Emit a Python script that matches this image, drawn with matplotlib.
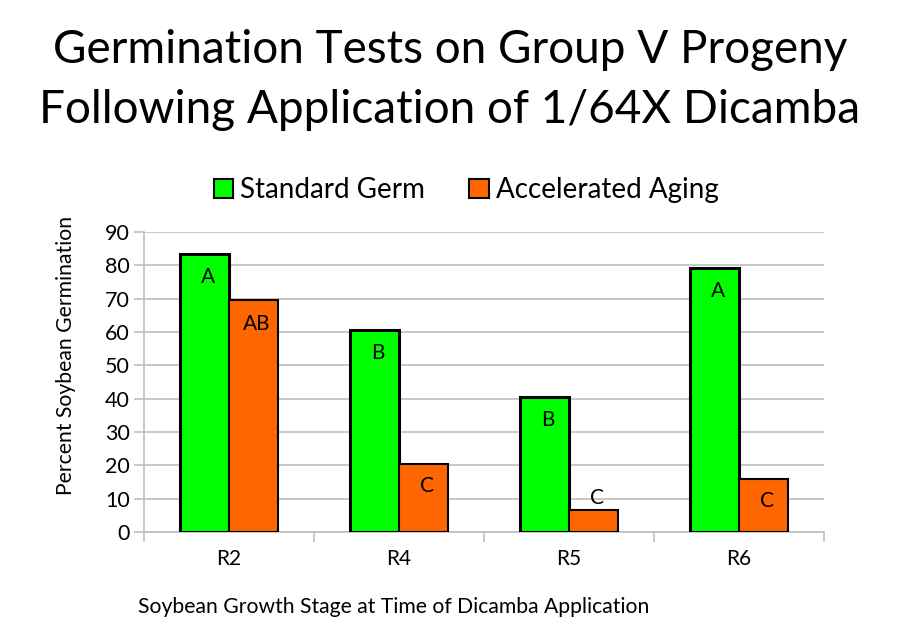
import matplotlib
matplotlib.use("Agg")
import matplotlib.pyplot as plt
import numpy as np
from matplotlib.patches import Patch

plt.rcParams['font.family'] = ['Lato', 'DejaVu Sans']

stages = ["R2", "R4", "R5", "R6"]
standard_germ = [83.5, 60.5, 40.5, 79.2]
accel_aging = [69.5, 20.5, 6.6, 15.8]
standard_letters = ["A", "B", "B", "A"]
accel_letters = ["AB", "C", "C", "C"]
series_names = ["Standard Germ", "Accelerated Aging"]
yticks = [0, 10, 20, 30, 40, 50, 60, 70, 80, 90]

green = "#00FF00"
orange = "#FF6600"

fig = plt.figure(figsize=(9, 6.4), dpi=100)
ax = fig.add_axes([144/900, 1-532/640, 680/900, 300/640])

x = np.arange(len(stages))
w = 0.288
b1 = ax.bar(x - w/2, standard_germ, w, color=green, edgecolor="black", linewidth=2.2, zorder=3)
b2 = ax.bar(x + w/2, accel_aging, w, color=orange, edgecolor="black", linewidth=1.5, zorder=3)

for rect, lab in zip(b1, standard_letters):
    ax.annotate(lab, (rect.get_x()+rect.get_width()/2 + 0.02, rect.get_height()),
                xytext=(0, -23), textcoords='offset pixels', ha='center', va='center',
                fontsize=15, zorder=4)
for rect, lab in zip(b2, accel_letters):
    h = rect.get_height()
    off = -24 if h > 10 else 12
    if h > 10 and h < 30:
        off = -22
    ax.annotate(lab, (rect.get_x()+rect.get_width()/2 + 0.02, h),
                xytext=(0, off), textcoords='offset pixels', ha='center', va='center',
                fontsize=15, zorder=4)

ax.set_xlim(-0.5, len(stages)-0.5)
ax.set_ylim(0, 90)
ax.set_yticks(yticks)
ax.set_yticklabels([str(t) for t in yticks], fontsize=15.5)
ax.yaxis.grid(True, color="#BFBFBF", linewidth=1.2, zorder=0)
ax.set_axisbelow(True)

ax.set_xticks(x)
ax.set_xticklabels(stages, fontsize=15)
ax.tick_params(axis='x', length=0, pad=12)
ax.set_xticks(np.arange(len(stages)+1)-0.5, minor=True)
ax.tick_params(axis='x', which='minor', length=7, color="#BFBFBF", width=1.2)
ax.tick_params(axis='y', length=7, color="#BFBFBF", width=1.2, pad=3)

for s in ["top", "right"]:
    ax.spines[s].set_visible(False)
for s in ["left", "bottom"]:
    ax.spines[s].set_color("#BFBFBF")
    ax.spines[s].set_linewidth(1.2)

fig.text(0.5, 1-50/640, "Germination Tests on Group V Progeny", ha='center', va='center', fontsize=33)
fig.text(0.5, 1-110/640, "Following Application of 1/64X Dicamba", ha='center', va='center', fontsize=33)

fig.text(138/900, 1-607/640, "Soybean Growth Stage at Time of Dicamba Application",
         ha='left', va='center', fontsize=15.2)
fig.text(66/900, 1-355/640, "Percent Soybean Germination", rotation=90,
         ha='center', va='center', fontsize=15.2)

handles = [Patch(facecolor=green, edgecolor="black", linewidth=1.5),
           Patch(facecolor=orange, edgecolor="black", linewidth=1.5)]
fig.legend(handles, series_names, loc='center', bbox_to_anchor=(466/900, 1-190/640),
           ncol=2, frameon=False, fontsize=20, handlelength=0.7, handleheight=0.7,
           handletextpad=0.25, columnspacing=1.6)

fig.savefig("out.png", dpi=100, facecolor="white")
